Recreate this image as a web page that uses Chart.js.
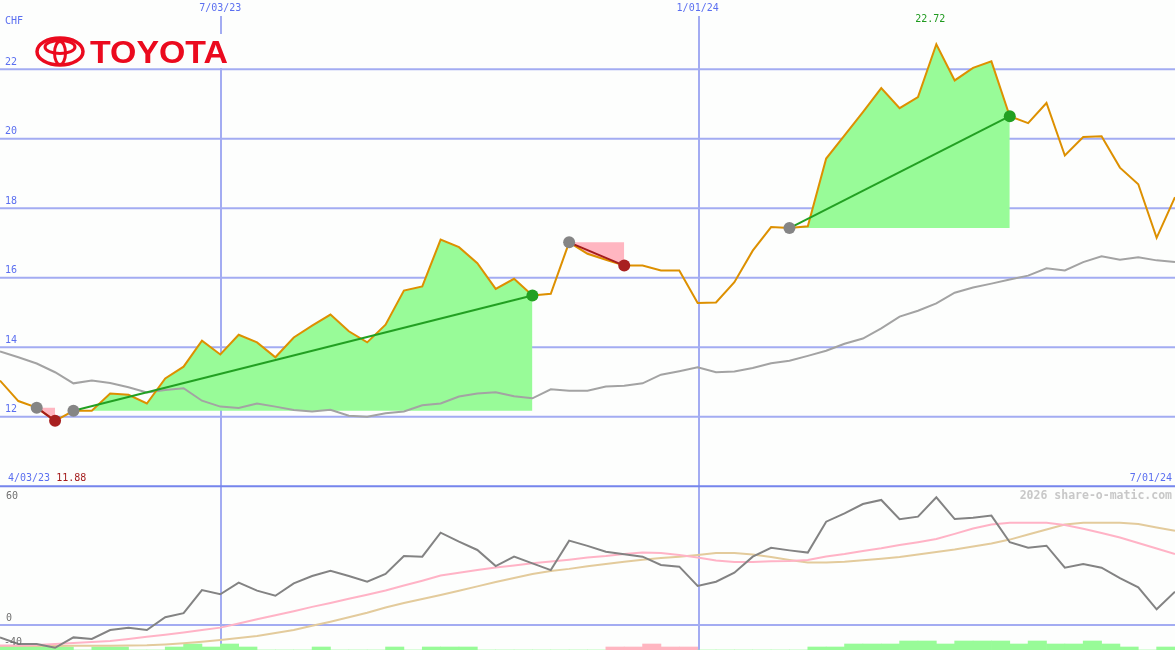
<!DOCTYPE html>
<html>
<head>
<meta charset="utf-8">
<script src="https://cdn.jsdelivr.net/npm/chart.js@4.4.1/dist/chart.umd.min.js"></script>
<style>
  body { margin: 0; background: #fdfefd; }
  canvas { display: block; }
</style>
</head>
<body>
<canvas id="chart" width="1175" height="650"></canvas>
<script>
// weekly closes in CHF, 4/03/23 .. 7/01/24
var price = [13.04, 12.45, 12.26, 11.88, 12.17, 12.17, 12.67, 12.63, 12.38, 13.10,
             13.44, 14.19, 13.79, 14.36, 14.14, 13.71, 14.28, 14.62, 14.94, 14.46,
             14.14, 14.65, 15.63, 15.75, 17.10, 16.88, 16.42, 15.68, 15.97, 15.49,
             15.54, 17.02, 16.69, 16.52, 16.35, 16.35, 16.21, 16.21, 15.27, 15.29,
             15.87, 16.78, 17.46, 17.43, 17.48, 19.43, 20.10, 20.77, 21.46, 20.88,
             21.20, 22.72, 21.68, 22.04, 22.23, 20.65, 20.45, 21.03, 19.52, 20.05,
             20.07, 19.17, 18.69, 17.15, 18.32];
var priceAvg = [13.88, 13.71, 13.53, 13.28, 12.96, 13.04, 12.97, 12.85, 12.70, 12.77,
                12.82, 12.46, 12.29, 12.25, 12.38, 12.29, 12.19, 12.15, 12.20, 12.03,
                12.00, 12.10, 12.15, 12.33, 12.38, 12.58, 12.67, 12.70, 12.59, 12.53,
                12.79, 12.75, 12.75, 12.87, 12.89, 12.96, 13.21, 13.31, 13.42, 13.28,
                13.30, 13.40, 13.54, 13.61, 13.75, 13.90, 14.10, 14.25, 14.54, 14.88,
                15.05, 15.26, 15.57, 15.72, 15.83, 15.95, 16.06, 16.27, 16.21, 16.45,
                16.62, 16.52, 16.59, 16.50, 16.45];
// lower panel
var momentum = [-6.1, -9.3, -9.3, -11.2, -6.1, -6.9, -2.5, -1.3, -2.5, 3.8,
                5.8, 17.2, 15.1, 20.8, 16.9, 14.4, 20.5, 24.1, 26.7, 24.1,
                21.3, 25.1, 33.9, 33.6, 45.4, 41.0, 36.9, 29.0, 33.6, 30.3,
                27.0, 41.5, 38.9, 36.0, 34.8, 33.6, 29.5, 28.7, 19.2, 21.3,
                25.7, 33.6, 38.0, 36.7, 35.6, 50.8, 54.9, 59.5, 61.5, 52.0,
                53.3, 62.8, 52.1, 52.8, 53.8, 40.7, 38.0, 39.0, 28.2, 30.0,
                28.2, 23.0, 18.5, 7.7, 16.4];
var momFast = [-10.1, -10.1, -9.8, -9.3, -8.9, -8.4, -7.9, -6.9, -5.8, -4.8,
               -3.7, -2.5, -1.3, 0.7, 2.8, 4.8, 6.8, 8.9, 10.8, 12.9,
               14.9, 17.0, 19.4, 21.8, 24.3, 25.7, 27.1, 28.3, 29.3, 30.4,
               31.2, 32.1, 33.2, 33.9, 34.9, 35.6, 35.4, 34.4, 33.2, 31.7,
               31.0, 31.0, 31.3, 31.5, 32.0, 33.7, 34.9, 36.4, 37.7, 39.3,
               40.7, 42.3, 44.8, 47.5, 49.4, 50.3, 50.3, 50.3, 49.2, 47.3,
               45.2, 43.0, 40.3, 37.6, 34.9];
var momSlow = [-10.3, -10.3, -10.3, -10.3, -10.2, -10.2, -10.2, -10.1, -10.0, -9.6,
               -9.0, -8.2, -7.4, -6.4, -5.4, -3.9, -2.5, -0.4, 1.6, 3.8,
               6.0, 8.6, 10.8, 12.8, 14.8, 16.8, 19.0, 21.1, 23.1, 25.1,
               26.6, 27.6, 28.9, 30.0, 31.1, 32.1, 32.9, 33.6, 34.4, 35.4,
               35.4, 34.7, 33.4, 32.0, 30.7, 30.7, 31.1, 31.8, 32.6, 33.4,
               34.7, 35.9, 37.1, 38.6, 40.1, 42.0, 44.5, 47.0, 49.4, 50.3,
               50.3, 50.3, 49.7, 48.0, 46.4];
// weekly bars (sign = colour), one per week interval
var volume = [1, 1, 1, 1, 0, 1, 1, 0, 0, 1, 2, 1, 2, 1, 0, 0, 0, 1, 0, 0,
              0, 1, 0, 1, 1, 1, 0, 0, 0, 0, 0, 0, 0, -1, -1, -2, -1, -1, 0, 0,
              0, 0, 0, 0, 1, 1, 2, 2, 2, 3, 3, 2, 3, 3, 3, 2, 3, 2, 2, 3,
              2, 1, 0, 1];

var priceTicks = [12, 14, 16, 18, 20, 22];
var lowerTicks = [60, 0];
var dateTickIdx = [12, 38];
var dateTickLabels = ['7/03/23', '1/01/24'];
var startLabel = '4/03/23';
var endLabel = '7/01/24';
// trend segments: start week -> end week
var trendFrom = [2, 4, 31, 43];
var trendTo = [3, 29, 34, 55];

var MONO = '"DejaVu Sans Mono", monospace';
var BLUE = '#5b6ff0';

function pts(arr, off) {
    return arr.map(function(v, i) { return {x: i + (off || 0), y: v}; });
}

var datasets = [];

for (var s = 0; s < trendFrom.length; s++) {
    var a = trendFrom[s], b = trendTo[s];
    var up = price[b] > price[a];
    // shaded area between price and the start level
    datasets.push({
        data: pts(price).slice(a, b + 1),
        yAxisID: 'y',
        fill: {value: price[a]},
        backgroundColor: up ? '#98fb98' : '#ffb6c1',
        borderWidth: 0,
        pointRadius: 0,
        order: 5
    });
    // trend line with start / end dots
    datasets.push({
        data: [{x: a, y: price[a]}, {x: b, y: price[b]}],
        yAxisID: 'y',
        borderColor: up ? '#22a022' : '#a41c1c',
        borderWidth: 2,
        pointRadius: 6,
        pointBorderWidth: 0,
        pointBackgroundColor: ['#858585', up ? '#22a022' : '#a82020'],
        fill: false,
        order: 0
    });
}

datasets.push({
    data: pts(price), yAxisID: 'y',
    borderColor: '#dd9000', borderWidth: 2, pointRadius: 0, fill: false, order: 2
});
datasets.push({
    data: pts(priceAvg), yAxisID: 'y',
    borderColor: '#a3a3a3', borderWidth: 2, pointRadius: 0, fill: false, order: 3
});
datasets.push({
    data: pts(momentum), yAxisID: 'y2',
    borderColor: '#838383', borderWidth: 2, pointRadius: 0, fill: false, order: 6
});
datasets.push({
    data: pts(momFast), yAxisID: 'y2',
    borderColor: '#ffb3c6', borderWidth: 2, pointRadius: 0, fill: false, order: 7
});
datasets.push({
    data: pts(momSlow), yAxisID: 'y2',
    borderColor: '#e3cb9c', borderWidth: 2, pointRadius: 0, fill: false, order: 8
});
datasets.push({
    type: 'bar',
    data: volume.map(function(v, i) { return {x: i + 0.5, y: Math.abs(v)}; }),
    yAxisID: 'yv',
    backgroundColor: volume.map(function(v) { return v < 0 ? '#ffb6c1' : '#98fb98'; }),
    borderWidth: 0,
    barPercentage: 1,
    categoryPercentage: 1,
    order: 9
});

var backdrop = {
    id: 'backdrop',
    beforeDraw: function(chart) {
        var c = chart.ctx;
        c.save();
        c.fillStyle = '#fdfefd';
        c.fillRect(0, 0, chart.width, chart.height);
        c.restore();
    }
};

var gridLines = {
    id: 'gridLines',
    beforeDatasetsDraw: function(chart) {
        var c = chart.ctx, sx = chart.scales.x, sy = chart.scales.y, s2 = chart.scales.y2;
        var W = chart.width, H = chart.height;
        c.save();
        c.lineWidth = 2;
        c.strokeStyle = '#a3acf2';
        priceTicks.forEach(function(t) {
            var yy = sy.getPixelForValue(t);
            c.beginPath(); c.moveTo(0, yy); c.lineTo(W, yy); c.stroke();
        });
        var z = s2.getPixelForValue(0);
        c.beginPath(); c.moveTo(0, z); c.lineTo(W, z); c.stroke();
        dateTickIdx.forEach(function(i) {
            var xx = Math.round(sx.getPixelForValue(i)) + 1;
            c.beginPath(); c.moveTo(xx, 16); c.lineTo(xx, H); c.stroke();
        });
        // panel divider
        var d = sy.getPixelForValue(10);
        c.strokeStyle = '#7585ec';
        c.beginPath(); c.moveTo(0, d); c.lineTo(W, d); c.stroke();
        c.restore();
    }
};

var labels = {
    id: 'labels',
    afterDatasetsDraw: function(chart) {
        var c = chart.ctx, sx = chart.scales.x, sy = chart.scales.y, s2 = chart.scales.y2;
        var W = chart.width;
        c.save();
        c.font = '10px ' + MONO;
        c.textBaseline = 'middle';
        c.fillStyle = BLUE;
        c.textAlign = 'left';
        c.fillText('CHF', 5, 21);
        priceTicks.forEach(function(t) {
            c.fillText(String(t), 5, sy.getPixelForValue(t) - 7);
        });
        c.textAlign = 'center';
        dateTickIdx.forEach(function(i, k) {
            c.fillText(dateTickLabels[k], sx.getPixelForValue(i), 8);
        });
        var d = sy.getPixelForValue(10);
        c.textAlign = 'left';
        c.fillText(startLabel, 8, d - 8);
        c.textAlign = 'right';
        c.fillText(endLabel, W - 3, d - 8);

        // high / low
        var hi = Math.max.apply(null, price), lo = Math.min.apply(null, price);
        var hiIdx = price.indexOf(hi);
        c.textAlign = 'center';
        c.fillStyle = '#1f9a1f';
        c.fillText(hi.toFixed(2), sx.getPixelForValue(hiIdx) - 6, sy.getPixelForValue(hi) - 25);
        c.textAlign = 'left';
        c.fillStyle = '#a41c1c';
        c.fillText(lo.toFixed(2), 8 + c.measureText(startLabel + ' ').width, d - 8);

        // lower panel labels
        c.fillStyle = '#707070';
        lowerTicks.forEach(function(t) {
            c.fillText(String(t), 6, s2.getPixelForValue(t) - 7);
        });
        c.fillText('-40', 4, s2.getPixelForValue(s2.min) - 8);

        c.font = 'bold 11.5px ' + MONO;
        c.fillStyle = '#c8c8c8';
        c.textAlign = 'right';
        c.fillText('2026 share-o-matic.com', W - 3, 496);

        // logo
        c.fillStyle = '#fdfefd';
        c.fillRect(32, 34, 200, 34);
        c.strokeStyle = '#eb0a1e';
        c.lineWidth = 3.5;
        c.beginPath(); c.ellipse(60, 51.5, 23, 13.5, 0, 0, Math.PI * 2); c.stroke();
        c.lineWidth = 3;
        c.beginPath(); c.ellipse(60, 47, 15, 6.5, 0, 0, Math.PI * 2); c.stroke();
        c.beginPath(); c.ellipse(60, 53, 5.5, 11.5, 0, 0, Math.PI * 2); c.stroke();
        c.font = 'bold 32px "Liberation Sans", Arial, sans-serif';
        c.fillStyle = '#eb0a1e';
        c.textBaseline = 'alphabetic';
        var w = c.measureText('TOYOTA').width;
        c.translate(90, 63);
        c.scale(138 / w, 1);
        c.textAlign = 'left';
        c.fillText('TOYOTA', 0, 0);
        c.restore();
    }
};

var chart = new Chart(document.getElementById('chart').getContext('2d'), {
    type: 'line',
    data: {datasets: datasets},
    options: {
        responsive: false,
        animation: false,
        devicePixelRatio: 1,
        layout: {padding: 0, autoPadding: false},
        elements: {line: {tension: 0}},
        plugins: {
            legend: {display: false},
            tooltip: {enabled: false}
        },
        scales: {
            x: {type: 'linear', min: 0, max: 64, offset: false, display: false},
            y: {min: 5.284, max: 23.995, display: false},
            y2: {min: -12.3, max: 307.4, display: false},
            yv: {min: 0, max: 650 / 3, display: false}
        }
    },
    plugins: [backdrop, gridLines, labels]
});
</script>
</body>
</html>
